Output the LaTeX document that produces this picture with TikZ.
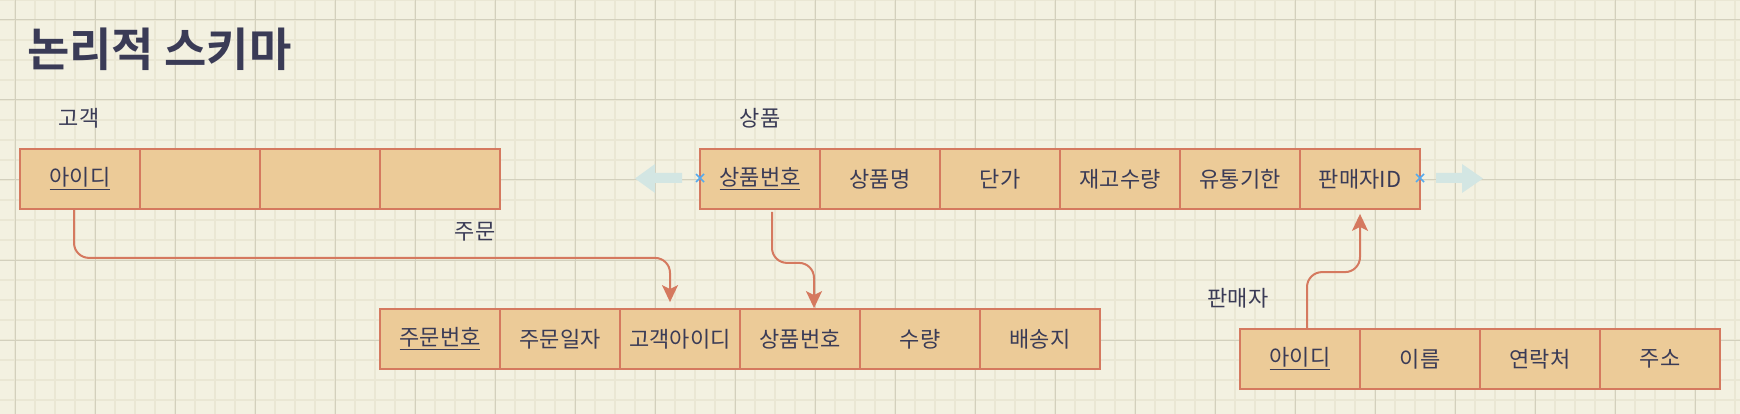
\documentclass[tikz,border=0pt]{standalone}
\usepackage{fontspec}
\setmainfont{Noto Sans CJK KR}[BoldFont=* Bold]
\usetikzlibrary{arrows.meta}
\definecolor{paper}{HTML}{F3F1E1}
\definecolor{gridminor}{HTML}{EAE7D4}
\definecolor{gridmajor}{HTML}{D3D0BD}
\definecolor{cellfill}{HTML}{ECCB98}
\definecolor{cellline}{HTML}{D5795F}
\definecolor{ink}{HTML}{3A3B56}
\definecolor{hint}{HTML}{D3E6E3}
\definecolor{pinblue}{HTML}{55AAEE}
\newcommand{\pkey}[1]{\setbox0\hbox{#1}\rlap{\rule[-4.5pt]{\wd0}{1.6pt}}\box0}

\begin{document}
\begin{tikzpicture}[x=1pt,y=-1pt,>={Stealth[length=17pt,width=16pt,inset=4pt]}]
		\tikzstyle{cell} = [rectangle,draw=cellline,fill=cellfill,line width=1.8pt,minimum width=120pt,minimum height=60pt,inner sep=0pt,text=ink,font=\fontsize{22}{26}\selectfont];
		\tikzstyle{tname} = [text=ink,font=\fontsize{22}{26}\selectfont,inner sep=0pt];
		\tikzstyle{link} = [->,draw=cellline,line width=2pt,rounded corners=15pt];
		\useasboundingbox (0,0) rectangle (1740,414);
		% paper and grid
		\fill[paper] (0,0) rectangle (1740,414);
		\foreach \x in {15,35,...,1735} \draw[gridminor,line width=2pt] (\x,0) -- (\x,414);
		\foreach \y in {0,20,...,400} \draw[gridminor,line width=2pt] (0,\y) -- (1740,\y);
		\foreach \x in {15,95,...,1695} \draw[gridmajor,line width=1pt] (\x,0) -- (\x,414);
		\foreach \y in {20,100,...,340} \draw[gridmajor,line width=1pt] (0,\y) -- (1740,\y);
		\node[anchor=west,inner sep=0pt,text=ink,font=\fontsize{46}{54}\selectfont\bfseries] (title) at (27,49) {논리적 스키마};
		% table names
		\node[tname] (gname) at (79,118) {고객};
		\node[tname] (sname) at (760,118) {상품};
		\node[tname] (jname) at (475,232) {주문};
		\node[tname] (pname) at (1238,298) {판매자};
		% customer
		\node[cell] (g1) at (80,179) {\pkey{아이디}};
		\node[cell] (g2) at (200,179) {};
		\node[cell] (g3) at (320,179) {};
		\node[cell] (g4) at (440,179) {};
		% product
		\node[cell] (s1) at (760,179) {\pkey{상품번호}};
		\node[cell] (s2) at (880,179) {상품명};
		\node[cell] (s3) at (1000,179) {단가};
		\node[cell] (s4) at (1120,179) {재고수량};
		\node[cell] (s5) at (1240,179) {유통기한};
		\node[cell] (s6) at (1360,179) {판매자ID};
		% order
		\node[cell] (j1) at (440,339) {\pkey{주문번호}};
		\node[cell] (j2) at (560,339) {주문일자};
		\node[cell] (j3) at (680,339) {고객아이디};
		\node[cell] (j4) at (800,339) {상품번호};
		\node[cell] (j5) at (920,339) {수량};
		\node[cell] (j6) at (1040,339) {배송지};
		% seller
		\node[cell] (p1) at (1300,359) {\pkey{아이디}};
		\node[cell] (p2) at (1420,359) {이름};
		\node[cell] (p3) at (1540,359) {연락처};
		\node[cell] (p4) at (1660,359) {주소};
		% references
		\draw[link] ([xshift=-6pt]g1.south) -- ++(0,48) -| ([xshift=-10pt,yshift=6pt]j3.north);
		\draw[link] ([xshift=12pt,yshift=-2pt]s1.south) -- ++(0,51) -| ([xshift=14pt]j4.north);
		\draw[link] ([xshift=7pt]p1.north) -- ++(0,-56) -| ([yshift=-4pt]s6.south);
		% resize hints
		\fill[hint] (682,173) -- (655,173) -- (655,164) -- (635,178.5) -- (655,193) -- (655,183) -- (682,183) -- cycle;
		\fill[hint] (1436,173) -- (1462,173) -- (1462,164) -- (1483,178.5) -- (1462,193) -- (1462,183) -- (1436,183) -- cycle;
		\draw[pinblue,line width=1.5pt] (696,174) -- (704,182) (696,182) -- (704,174);
		\draw[pinblue,line width=1.5pt] (1416,174) -- (1424,182) (1416,182) -- (1424,174);
	\end{tikzpicture}
\end{document}
